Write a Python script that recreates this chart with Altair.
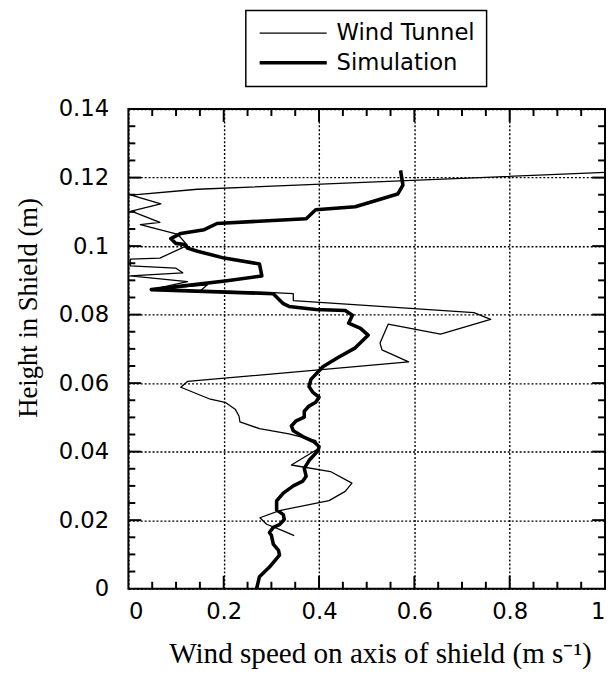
import altair as alt
import pandas as pd

# Wind tunnel (thin line), traced top to bottom
wt_x = [1.0, 0.145, 0.006, 0.068, 0.006, 0.066, 0.025, 0.104, 0.124, 0.066,
        0.004, 0.004, 0.099, 0.114, 0.004, 0.124, 0.048, 0.166, 0.151, 0.304,
        0.346, 0.346, 0.497, 0.725, 0.760, 0.655, 0.545, 0.528, 0.532, 0.588,
        0.124, 0.110, 0.172, 0.203, 0.224, 0.232, 0.234, 0.275, 0.337, 0.393,
        0.400, 0.342, 0.424, 0.469, 0.455, 0.421, 0.317, 0.276, 0.290, 0.321,
        0.348]
wt_y = [0.1215, 0.1166, 0.1149, 0.1123, 0.1102, 0.1069, 0.1063, 0.1034, 0.1002, 0.0965,
        0.0962, 0.0942, 0.0936, 0.0922, 0.0913, 0.0896, 0.0873, 0.0887, 0.0870, 0.0864,
        0.0861, 0.0841, 0.0827, 0.0806, 0.0786, 0.0743, 0.0772, 0.0717, 0.0697, 0.0662,
        0.0605, 0.0588, 0.0553, 0.0544, 0.0524, 0.0504, 0.0487, 0.0467, 0.0452, 0.0432,
        0.0410, 0.0361, 0.0342, 0.0308, 0.0284, 0.0257, 0.0228, 0.0207, 0.0188, 0.0171,
        0.0155]

# Simulation (thick line), traced top to bottom
sim_x = [0.571, 0.576, 0.565, 0.476, 0.393, 0.373, 0.186, 0.159, 0.110, 0.089,
         0.099, 0.118, 0.124, 0.145, 0.201, 0.275, 0.280, 0.207, 0.048, 0.304,
         0.325, 0.337, 0.393, 0.455, 0.470, 0.462, 0.487, 0.503, 0.476, 0.439,
         0.408, 0.383, 0.379, 0.387, 0.400, 0.393, 0.379, 0.369, 0.369, 0.352,
         0.342, 0.346, 0.366, 0.389, 0.400, 0.398, 0.379, 0.369, 0.373, 0.366,
         0.346, 0.325, 0.311, 0.311, 0.325, 0.327, 0.317, 0.304, 0.296, 0.300,
         0.304, 0.315, 0.317, 0.296, 0.275, 0.269]
sim_y = [0.1221, 0.1178, 0.1152, 0.1115, 0.1106, 0.1080, 0.1066, 0.1048, 0.1037, 0.1022,
         0.1008, 0.1005, 0.0994, 0.0985, 0.0965, 0.0948, 0.0913, 0.0899, 0.0873, 0.0861,
         0.0832, 0.0824, 0.0815, 0.0812, 0.0798, 0.0775, 0.0760, 0.0740, 0.0703, 0.0674,
         0.0648, 0.0611, 0.0590, 0.0573, 0.0559, 0.0544, 0.0533, 0.0518, 0.0501, 0.0490,
         0.0475, 0.0461, 0.0444, 0.0429, 0.0415, 0.0403, 0.0374, 0.0351, 0.0328, 0.0314,
         0.0300, 0.0279, 0.0256, 0.0230, 0.0216, 0.0202, 0.0187, 0.0179, 0.0164, 0.0156,
         0.0130, 0.0112, 0.0098, 0.0063, 0.0035, 0.0000]

series_names = ["Wind Tunnel", "Simulation"]

x_labels = [0, 0.2, 0.4, 0.6, 0.8, 1.0]
y_labels = [0, 0.02, 0.04, 0.06, 0.08, 0.1, 0.12, 0.14]
x_minor = [0.05, 0.1, 0.15, 0.25, 0.3, 0.35, 0.45, 0.5, 0.55, 0.65, 0.7, 0.75, 0.85, 0.9, 0.95]
x_major = [0.2, 0.4, 0.6, 0.8]
y_minor = [0.005, 0.01, 0.015, 0.025, 0.03, 0.035, 0.045, 0.05, 0.055, 0.065, 0.07, 0.075,
           0.085, 0.09, 0.095, 0.105, 0.11, 0.115, 0.125, 0.13, 0.135]
y_major = [0.02, 0.04, 0.06, 0.08, 0.1, 0.12]

W, H = 483, 486

rows = []
for i, (a, b) in enumerate(zip(wt_x, wt_y)):
    rows.append({"series": series_names[0], "x": a, "y": b, "i": i})
for i, (a, b) in enumerate(zip(sim_x, sim_y)):
    rows.append({"series": series_names[1], "x": a, "y": b, "i": i})
df = pd.DataFrame(rows)

xscale = alt.Scale(domain=[0, 1], nice=False, zero=False)
yscale = alt.Scale(domain=[0, 0.14], nice=False, zero=False)

lines = alt.Chart(df).mark_line(color="black", clip=True, strokeJoin="round").encode(
    x=alt.X("x:Q", scale=xscale, title="Wind speed on axis of shield (m s\u207b\u00b9)",
            axis=alt.Axis(values=x_labels, format="~g", grid=True, ticks=False, tickSize=0,
                          domain=False, labelPadding=12, titleX=255, titleY=66,
                          titleBaseline="middle")),
    y=alt.Y("y:Q", scale=yscale, title="Height in Shield (m)",
            axis=alt.Axis(values=y_labels, format="~g", grid=True, ticks=False, tickSize=0,
                          domain=False, labelPadding=20, titleX=-101, titleY=201,
                          titleBaseline="middle", titleAngle=270)),
    order=alt.Order("i:Q"),
    strokeWidth=alt.StrokeWidth(
        "series:N",
        scale=alt.Scale(type="ordinal", domain=series_names, range=[1.3, 3.6]),
        legend=alt.Legend(orient="none", legendX=119, legendY=-100, title=None,
                          symbolType="stroke", symbolSize=4620, symbolStrokeColor="black",
                          labelFont="DejaVu Sans", labelFontSize=23, labelColor="black",
                          strokeColor="black", fillColor="white", padding=12,
                          rowPadding=7, labelOffset=8, clipHeight=22),
    ),
)

TICK = "black"


def xticks(vals, length):
    d = pd.DataFrame({"tx": vals})
    top = alt.Chart(d).mark_rule(color=TICK, strokeWidth=2).encode(
        x=alt.X("tx:Q", scale=xscale), y=alt.value(0), y2=alt.value(length))
    bot = alt.Chart(d).mark_rule(color=TICK, strokeWidth=2).encode(
        x=alt.X("tx:Q", scale=xscale), y=alt.value(H - length), y2=alt.value(H))
    return [top, bot]


def yticks(vals, length):
    d = pd.DataFrame({"ty": vals})
    left = alt.Chart(d).mark_rule(color=TICK, strokeWidth=2).encode(
        y=alt.Y("ty:Q", scale=yscale), x=alt.value(0), x2=alt.value(length))
    right = alt.Chart(d).mark_rule(color=TICK, strokeWidth=2).encode(
        y=alt.Y("ty:Q", scale=yscale), x=alt.value(W - length), x2=alt.value(W))
    return [left, right]


layers = [lines] + xticks(x_minor, 7) + xticks(x_major, 13) + yticks(y_minor, 7) + yticks(y_major, 13)

chart = alt.layer(*layers).properties(
    width=W, height=H,
    padding={"left": 122, "top": 98, "right": 1, "bottom": 79},
    autosize=alt.AutoSizeParams(type="none"),
).configure_view(
    stroke="black", strokeWidth=2
).configure_axis(
    gridColor="black", gridDash=[2, 2], gridWidth=1.4, gridOpacity=1,
    labelFont="DejaVu Sans", labelFontSize=23, labelColor="black",
    titleFont="Liberation Serif", titleFontSize=29.5, titleFontWeight="normal", titleColor="black",
).configure_axisY(
    titleFontSize=27
).configure_legend(
    strokeWidth=1.5
)

chart.save("out.html", embed_options={"renderer": "svg", "actions": False})
